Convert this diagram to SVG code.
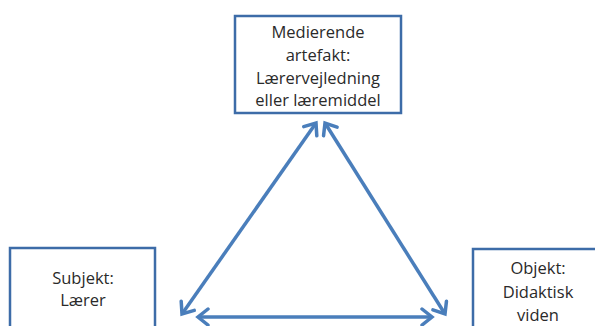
<svg xmlns="http://www.w3.org/2000/svg" width="595" height="326" viewBox="0 0 595 326">
<style>
.box{fill:#fff;stroke:#3d6ca8;stroke-width:2.5}
.t{font-family:"Open Sans","Liberation Sans",sans-serif;font-size:16.5px;fill:#2a2a2a;text-anchor:middle}
.c{stroke:#4a7ebb;stroke-width:3.5;fill:none}
</style>
<defs>
<marker id="ah" markerUnits="userSpaceOnUse" markerWidth="30" markerHeight="30" viewBox="-15 -15 30 30" refX="0" refY="0" orient="auto-start-reverse">
<path d="M-10,-8 L0,0 L-10,8" fill="none" stroke="#4a7ebb" stroke-width="3.5" stroke-linecap="round" stroke-linejoin="miter"/>
</marker>
</defs>
<rect width="595" height="326" fill="#fff"/>
<g id="top">
<rect class="box" x="235" y="16" width="166" height="97"/>
<text class="t" x="318" y="38">Medierende</text>
<text class="t" x="318" y="61">artefakt:</text>
<text class="t" x="318" y="84">Lærervejledning</text>
<text class="t" x="318" y="106">eller læremiddel</text>
</g>
<g id="subjekt">
<rect class="box" x="10" y="248" width="145" height="90"/>
<text class="t" x="83" y="284">Subjekt:</text>
<text class="t" x="83" y="306">Lærer</text>
</g>
<g id="objekt">
<rect class="box" x="473" y="249" width="140" height="90"/>
<text class="t" x="538" y="274">Objekt:</text>
<text class="t" x="538" y="298">Didaktisk</text>
<text class="t" x="538" y="321">viden</text>
</g>
<g id="connectors">
<line class="c" x1="182" y1="314" x2="316" y2="123" marker-start="url(#ah)" marker-end="url(#ah)"/>
<line class="c" x1="325" y1="123" x2="445" y2="314" marker-start="url(#ah)" marker-end="url(#ah)"/>
<line class="c" x1="198" y1="317" x2="432" y2="317" marker-start="url(#ah)" marker-end="url(#ah)"/>
</g>
</svg>
